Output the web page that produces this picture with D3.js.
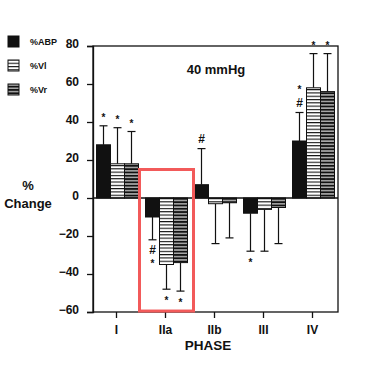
<!DOCTYPE html>
<html>
<head>
<meta charset="utf-8">
<script src="https://cdn.jsdelivr.net/npm/d3@7"></script>
<style>
  body { margin: 0; background: #fff; }
  svg text { font-family: "Liberation Sans", Arial, sans-serif; font-weight: bold; fill: #111; }
</style>
</head>
<body>
<svg id="chart" width="370" height="373"></svg>
<script>
// phases on the x axis
const phases = ['I', 'IIa', 'IIb', 'III', 'IV']
const series = ['%ABP', '%Vl', '%Vr']

// mean % change per phase
const abp = [28, -10, 7, -8, 30]
const vl = [18, -35, -3, -6, 58]
const vr = [18, -34, -2.5, -5, 56]

// end of error bar (mean +/- sd)
const abpErr = [38, -22, 26, -28, 45]
const vlErr = [37, -48, -24, -28, 76]
const vrErr = [35, -49, -21, -24, 76]

// significance marks, top to bottom
const abpSig = ['*', '#*', '#', '*', '*#']
const vlSig = ['*', '*', '', '', '*']
const vrSig = ['*', '*', '', '', '*']

const yTicks = [-60, -40, -20, 0, 20, 40, 60, 80]

const svg = d3.select('#chart')

// patterns for the striped bars
const defs = svg.append('defs')
const p1 = defs.append('pattern').attr('id', 'stripeL')
	.attr('patternUnits', 'userSpaceOnUse').attr('width', 6).attr('height', 3.3)
p1.append('rect').attr('width', 6).attr('height', 3.3).attr('fill', '#fff')
p1.append('rect').attr('y', 0).attr('width', 6).attr('height', 1.1).attr('fill', '#111')
const p2 = defs.append('pattern').attr('id', 'stripeR')
	.attr('patternUnits', 'userSpaceOnUse').attr('width', 6).attr('height', 3.3)
p2.append('rect').attr('width', 6).attr('height', 3.3).attr('fill', '#111')
p2.append('rect').attr('y', 2).attr('width', 6).attr('height', 1).attr('fill', '#fff')

const fills = ['#111', 'url(#stripeL)', 'url(#stripeR)']

const x = d3.scaleBand().domain(phases).range([92, 337])
const xi = d3.scaleBand().domain(series).range([0, 42])
const y = d3.scaleLinear().domain([-60, 80]).range([312, 46])

const left = 93, right = 338

// frame
svg.append('rect')
	.attr('x', left).attr('y', y(80))
	.attr('width', right - left).attr('height', y(-60) - y(80))
	.attr('fill', 'none').attr('stroke', '#111').attr('stroke-width', 1.3)

// y axis
const yAxis = svg.append('g')
	.attr('transform', `translate(${left},0)`)
	.call(d3.axisLeft(y).tickValues(yTicks).tickSize(6).tickPadding(8))
yAxis.select('.domain').attr('stroke', '#111').attr('stroke-width', 1.3)
yAxis.selectAll('.tick line').attr('stroke', '#111').attr('stroke-width', 1.3)
yAxis.selectAll('.tick text')
	.attr('font-size', 12).attr('dy', '0.15em')
	.style('font-family', '"Liberation Sans", Arial, sans-serif').style('font-weight', 'bold')

// x axis
const xAxis = svg.append('g')
	.attr('transform', `translate(0,${y(-60)})`)
	.call(d3.axisBottom(x).tickSize(6).tickPadding(7))
xAxis.select('.domain').remove()
xAxis.selectAll('.tick line').attr('stroke', '#111').attr('stroke-width', 1.3)
xAxis.selectAll('.tick text')
	.attr('font-size', 12)
	.style('font-family', '"Liberation Sans", Arial, sans-serif').style('font-weight', 'bold')

// one row per bar
const rows = []
const vals = [abp, vl, vr], errs = [abpErr, vlErr, vrErr], sigs = [abpSig, vlSig, vrSig]
phases.forEach((p, i) => {
	series.forEach((s, j) => {
		rows.push({ phase: p, s, j, v: vals[j][i], e: errs[j][i], sig: sigs[j][i] })
	})
})
const bx = d => x(d.phase) + x.bandwidth() / 2 - 21 + xi(d.s) + 1
const bc = d => bx(d) + xi.bandwidth() / 2

// error bars (behind bars)
const eb = svg.append('g').attr('stroke', '#111').attr('stroke-width', 1.2)
eb.selectAll('line.v').data(rows).join('line')
	.attr('x1', bc).attr('x2', bc)
	.attr('y1', d => y(d.v)).attr('y2', d => y(d.e))
eb.selectAll('line.c').data(rows).join('line')
	.attr('x1', d => bc(d) - 4).attr('x2', d => bc(d) + 4)
	.attr('y1', d => y(d.e)).attr('y2', d => y(d.e))

svg.append('g').selectAll('rect').data(rows).join('rect')
	.attr('x', bx)
	.attr('width', xi.bandwidth())
	.attr('y', d => y(Math.max(0, d.v)))
	.attr('height', d => Math.abs(y(d.v) - y(0)))
	.attr('fill', d => fills[d.j])
	.attr('stroke', '#111').attr('stroke-width', 1)

// zero line
svg.append('line')
	.attr('x1', left).attr('x2', right).attr('y1', y(0)).attr('y2', y(0))
	.attr('stroke', '#111').attr('stroke-width', 1.3)

// significance marks
const sg = svg.append('g')
rows.filter(d => d.sig).forEach(d => {
	const chars = d.sig.split('')
	const up = d.e > 0
	chars.forEach((c, k) => {
		const idx = up ? chars.length - 1 - k : k
		const off = up ? 10 + idx * 15 : 10 + idx * 12
		const cy = up ? y(d.e) - off : y(d.e) + off
		sg.append('text')
			.attr('x', bc(d)).attr('y', cy + (c === '*' ? 5 : 4))
			.attr('text-anchor', 'middle')
			.attr('font-size', c === '*' ? 10 : 12)
			.text(c)
	})
})

// title
svg.append('text').attr('x', 216).attr('y', 74).attr('text-anchor', 'middle')
	.attr('font-size', 13).text('40 mmHg')

// axis titles
svg.append('text').attr('x', 28).attr('y', 190).attr('text-anchor', 'middle')
	.attr('font-size', 13).text('%')
svg.append('text').attr('x', 28).attr('y', 208).attr('text-anchor', 'middle')
	.attr('font-size', 13).text('Change')
svg.append('text').attr('x', 208).attr('y', 350).attr('text-anchor', 'middle')
	.attr('font-size', 13.5).text('PHASE')

// legend
const lg = svg.append('g')
series.forEach((s, j) => {
	const ly = 36 + j * 24
	lg.append('rect').attr('x', 8).attr('y', ly).attr('width', 11).attr('height', 11)
		.attr('fill', fills[j]).attr('stroke', '#111').attr('stroke-width', 1)
	lg.append('text').attr('x', 30).attr('y', ly + 9).attr('font-size', 9).text(s)
})

// red highlight around phase IIa
const hx = x('IIa') + x.bandwidth() / 2
svg.append('rect')
	.attr('x', hx - 26).attr('y', y(15))
	.attr('width', 54).attr('height', y(-59.5) - y(15))
	.attr('fill', 'none').attr('stroke', '#f25a5a').attr('stroke-width', 3)
</script>
</body>
</html>
